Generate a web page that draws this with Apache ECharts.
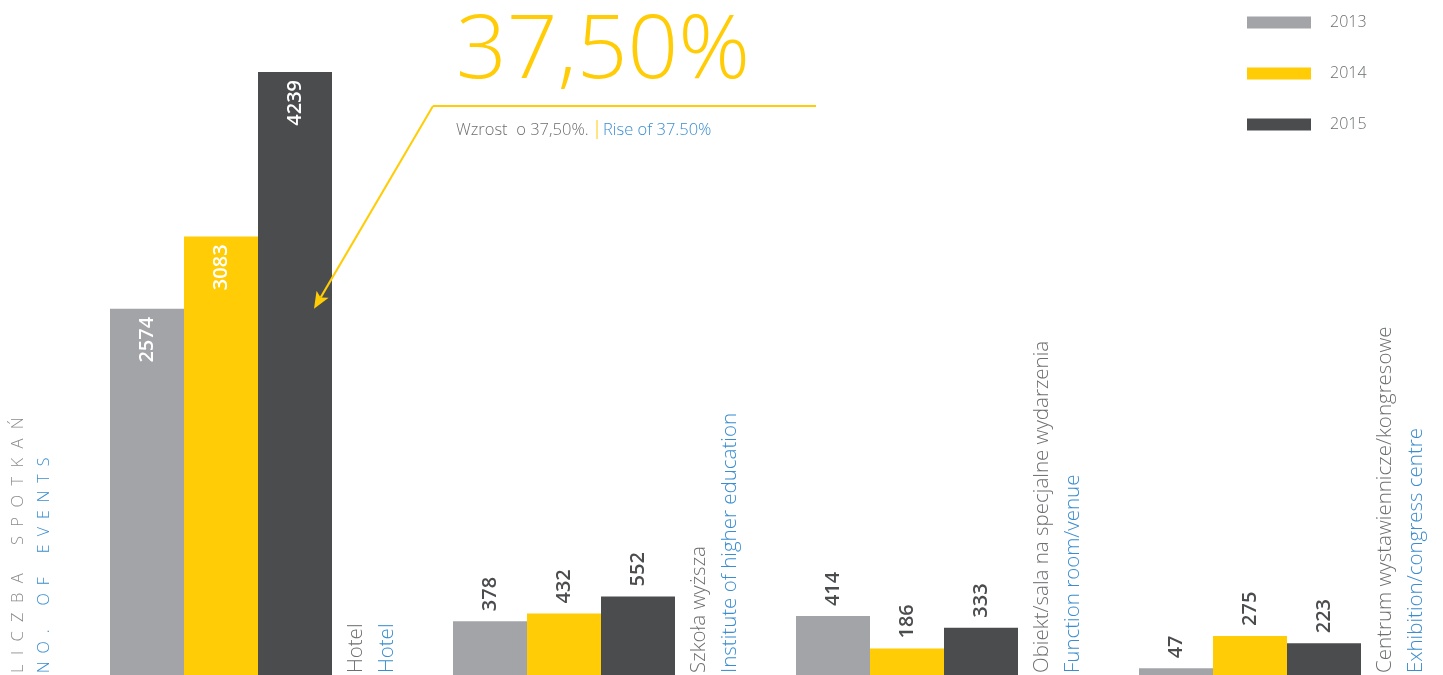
<!DOCTYPE html>
<html>
<head>
<meta charset="utf-8">
<script src="https://cdn.jsdelivr.net/npm/echarts@6/dist/echarts.min.js"></script>
<style>
html,body{margin:0;padding:0;background:#fff;}
#chart{width:1443px;height:675px;}
</style>
</head>
<body>
<div id="chart"></div>
<script>
// ---- data ----
const categoriesPl = ['Hotel', 'Szkoła wyższa', 'Obiekt/sala na specjalne wydarzenia', 'Centrum wystawiennicze/kongresowe'];
const categoriesEn = ['Hotel', 'Institute of higher education', 'Function room/venue', 'Exhibition/congress centre'];
const years = ['2013', '2014', '2015'];
const values2013 = [2574, 378, 414, 47];
const values2014 = [3083, 432, 186, 275];
const values2015 = [4239, 552, 333, 223];
const highlightText = '37,50%';
const highlightPl = 'Wzrost  o 37,50%.';
const highlightEn = 'Rise of 37.50%';

const colors = ['#a3a4a8', '#ffcc05', '#4b4c4e'];
const FONT = '"Open Sans", "Noto Sans", sans-serif';

const insideLabel = {
  show: true, position: 'insideTop', rotate: 90, align: 'right', verticalAlign: 'middle',
  distance: 8, color: '#ffffff', fontSize: 20, fontWeight: 600, fontFamily: FONT
};
const outsideLabel = {
  show: true, position: 'top', rotate: 90, align: 'left', verticalAlign: 'middle',
  distance: 10, color: '#4b4c4e', fontSize: 20, fontWeight: 600, fontFamily: FONT
};
function toItems(vals) {
  return vals.map(v => ({ value: v, label: v > 1000 ? insideLabel : outsideLabel }));
}

const chart = echarts.init(document.getElementById('chart'), null, { renderer: 'canvas' });

const seriesVals = [values2013, values2014, values2015];
const barSeries = years.map((y, i) => ({
  name: y, type: 'bar', barWidth: 74, barGap: '0%',
  itemStyle: { color: colors[i] },
  data: toItems(seriesVals[i]),
  silent: true
}));

const labelSeries = {
  type: 'custom',
  silent: true,
  clip: false,
  z: 10,
  encode: { x: 0, y: 1 },
  data: categoriesPl.map((c, i) => [i, 0]),
  renderItem: function (params, api) {
    const p = api.coord([api.value(0), 0]);
    const i = params.dataIndex;
    return {
      type: 'group',
      children: [
        { type: 'text', x: p[0] + 135, y: p[1] - 2, rotation: Math.PI / 2,
          style: { text: categoriesPl[i], fill: '#6d6e70', font: '300 20.5px ' + FONT, align: 'left', verticalAlign: 'middle' } },
        { type: 'text', x: p[0] + 166, y: p[1] - 2, rotation: Math.PI / 2,
          style: { text: categoriesEn[i], fill: '#3a8dd0', font: '300 20.5px ' + FONT, align: 'left', verticalAlign: 'middle' } }
      ]
    };
  }
};

chart.setOption({
  animation: false,
  backgroundColor: '#ffffff',
  grid: { left: 49.5, right: 21.5, top: 0, bottom: 0, containLabel: false },
  xAxis: {
    type: 'category', data: categoriesPl,
    axisLine: { show: false }, axisTick: { show: false }, axisLabel: { show: false }, splitLine: { show: false }
  },
  yAxis: {
    type: 'value', min: 0, max: 4745, show: false, splitLine: { show: false }
  },
  legend: {
    data: years, orient: 'vertical', left: 1247, top: 14, padding: 0,
    itemWidth: 64, itemHeight: 12, itemGap: 34, icon: 'rect',
    textStyle: { fontSize: 16, color: '#6d6e70', fontFamily: FONT, fontWeight: 300, lineHeight: 17, padding: [0, 0, 0, 14] },
    selectedMode: false
  },
  series: barSeries.concat([labelSeries])
});

// annotation anchored on the 2015 Hotel bar at the 2013 level
const tipBase = chart.convertToPixel({ gridIndex: 0 }, [0, values2013[0]]);
const tip = [tipBase[0] + 93, tipBase[1]];
const corner = [433, 106];
const dx = tip[0] - corner[0], dy = tip[1] - corner[1];
const len = Math.sqrt(dx * dx + dy * dy);
const ux = dx / len, uy = dy / len;
const hl = 17, hw = 7;
const bx = tip[0] - ux * hl, by = tip[1] - uy * hl;
const notchX = tip[0] - ux * (hl - 4), notchY = tip[1] - uy * (hl - 4);
const G = 'F';
const fs = '\u2007';

chart.setOption({
  graphic: [
    { type: 'text', left: 456, top: 8, z: 100,
      style: { text: highlightText, fill: '#ffcc05', font: '300 89px ' + FONT } },
    { type: 'line', z: 100, shape: { x1: corner[0], y1: corner[1], x2: 816, y2: corner[1] },
      style: { stroke: '#ffcc05', lineWidth: 2 } },
    { type: 'line', z: 100, shape: { x1: corner[0], y1: corner[1], x2: notchX, y2: notchY },
      style: { stroke: '#ffcc05', lineWidth: 2 } },
    { type: 'polygon', z: 100, shape: { points: [
        [tip[0], tip[1]],
        [bx - uy * hw, by + ux * hw],
        [notchX, notchY],
        [bx + uy * hw, by - ux * hw]
      ] }, style: { fill: '#ffcc05' } },
    { type: 'text', x: 456, y: 130, z: 100,
      style: { text: highlightPl, fill: '#6d6e70', font: '300 16.5px ' + FONT, verticalAlign: 'middle' } },
    { type: 'line', z: 100, shape: { x1: 597, y1: 120, x2: 597, y2: 139 }, style: { stroke: '#ffcc05', lineWidth: 1 } },
    { type: 'text', x: 603, y: 130, z: 100,
      style: { text: highlightEn, fill: '#3a8dd0', font: '300 16.5px ' + FONT, verticalAlign: 'middle' } },
    { type: 'text', x: 18, y: 673, rotation: Math.PI / 2, z: 100,
      style: { text: ['L','I','C','Z','B','A'].join(fs) + fs + fs + fs + ['S','P','O','T','K','A','Ń'].join(fs),
        fill: '#8a8b8d', font: '300 16.5px ' + FONT, align: 'left', verticalAlign: 'middle' } },
    { type: 'text', x: 44, y: 673, rotation: Math.PI / 2, z: 100,
      style: { text: 'N\u2002O\u2002.\u2002\u2002\u2002O\u2002F\u2002\u2002\u2002E\u2002V\u2002E\u2002N\u2002T\u2002S',
        fill: '#3a8dd0', font: '300 16px ' + FONT, align: 'left', verticalAlign: 'middle' } }
  ]
});
</script>
</body>
</html>
